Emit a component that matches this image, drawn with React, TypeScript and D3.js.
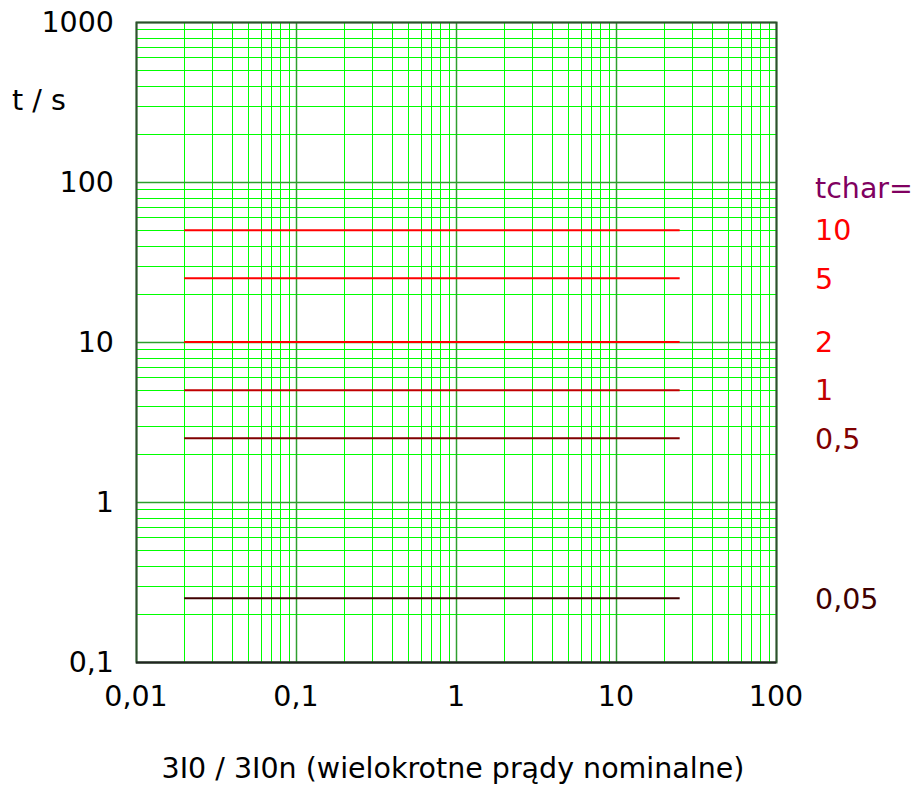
import React from "react";
import * as d3 from "d3";

const xTicks = [0.01, 0.1, 1, 10, 100];
const xTickLabels = ["0,01", "0,1", "1", "10", "100"];
const yTicks = [0.1, 1, 10, 100, 1000];
const yTickLabels = ["0,1", "1", "10", "100", "1000"];
const tcharLabels = ["10", "5", "2", "1", "0,5", "0,05"];
const tcharTimes = [50, 25, 10, 5, 2.5, 0.25];
const tcharColors = ["#ff0000", "#ff0000", "#ff0000", "#c00000", "#800000", "#400000"];
const lineStart = 0.02;
const lineEnd = 25;

export default function App() {
  const W = 914, H = 785;
  const left = 136, right = 776, top = 22, bottom = 662;
  const x = d3.scaleLog().domain([0.01, 100]).range([left, right]);
  const y = d3.scaleLog().domain([0.1, 1000]).range([bottom, top]);
  const font = "DejaVu Sans, sans-serif";
  const fs = 28.5;

  const minorX: number[] = [];
  for (let e = -2; e < 2; e++) for (let m = 2; m <= 9; m++) minorX.push(m * Math.pow(10, e));
  const minorY: number[] = [];
  for (let e = -1; e < 3; e++) for (let m = 2; m <= 9; m++) minorY.push(m * Math.pow(10, e));

  const px = (v: number) => Math.round(x(v)) + 0.5;
  const py = (v: number) => Math.round(y(v)) + 0.5;

  return (
    <svg width={W} height={H} style={{ position: "absolute", left: 0, top: 0 }} fontFamily={font}>
      <rect width={W} height={H} fill="#fff" />
      {minorX.map((v, i) => (
        <line key={"mx" + i} x1={px(v)} x2={px(v)} y1={top} y2={bottom} stroke="#00ff00" strokeWidth={1} />
      ))}
      {minorY.map((v, i) => (
        <line key={"my" + i} x1={left} x2={right} y1={py(v)} y2={py(v)} stroke="#00ff00" strokeWidth={1} />
      ))}
      {xTicks.map((v, i) => (
        <line key={"Mx" + i} x1={px(v)} x2={px(v)} y1={top} y2={bottom} stroke="#2f9f2f" strokeWidth={1.5} />
      ))}
      {yTicks.map((v, i) => (
        <line key={"My" + i} x1={left} x2={right} y1={py(v)} y2={py(v)} stroke="#2f9f2f" strokeWidth={1.5} />
      ))}
      <rect x={left + 0.5} y={top + 0.5} width={right - left} height={bottom - top} fill="none" stroke="#2f4f2f" strokeWidth={2} />
      <line x1={left} x2={right} y1={bottom + 0.5} y2={bottom + 0.5} stroke="#222" strokeWidth={2} />
      {tcharTimes.map((t, i) => (
        <line key={"l" + i} x1={x(lineStart)} x2={x(lineEnd)} y1={y(t)} y2={y(t)} stroke={tcharColors[i]} strokeWidth={2} />
      ))}
      {yTicks.map((v, i) => (
        <text key={"yt" + i} x={114} y={y(v)} dy="0.36em" textAnchor="end" fontSize={fs} fill="#000">
          {yTickLabels[i]}
        </text>
      ))}
      {xTicks.map((v, i) => (
        <text key={"xt" + i} x={x(v)} y={706} textAnchor="middle" fontSize={fs} fill="#000">
          {xTickLabels[i]}
        </text>
      ))}
      <text x={12} y={100} dy="0.36em" fontSize={fs} fill="#000">t / s</text>
      <text x={453} y={778} textAnchor="middle" fontSize={fs} fill="#000">3I0 / 3I0n (wielokrotne prądy nominalne)</text>
      <text x={815} y={188} dy="0.36em" fontSize={fs} fill="#800060">tchar=</text>
      {tcharTimes.map((t, i) => (
        <text key={"tl" + i} x={815} y={y(t)} dy="0.36em" fontSize={fs} fill={tcharColors[i]}>
          {tcharLabels[i]}
        </text>
      ))}
    </svg>
  );
}
